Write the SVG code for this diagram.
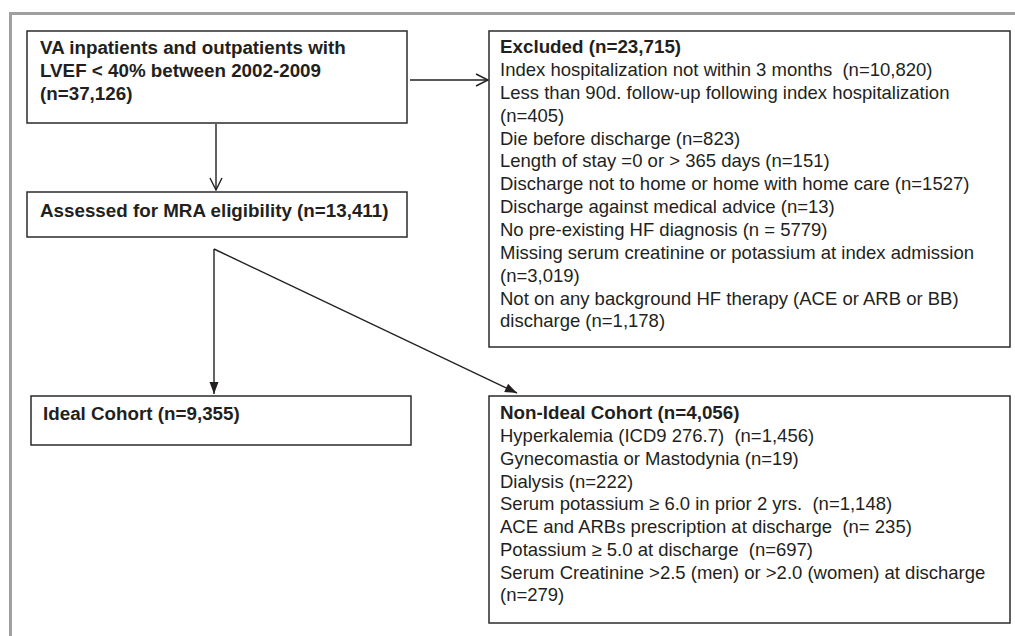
<svg xmlns="http://www.w3.org/2000/svg" width="1015" height="636" viewBox="0 0 1015 636">
<defs>
<style>
.box{fill:#fff;stroke:#2b2b2b;stroke-width:1.5}
.frame{fill:none;stroke:#a0a0a3;stroke-width:3}
.conn{fill:none;stroke:#231f20;stroke-width:1.4}
.b{font-family:"Liberation Sans",Arial,sans-serif;font-weight:bold;font-size:18.8px;fill:#231f20;white-space:pre}
.r{font-family:"Liberation Sans",Arial,sans-serif;font-size:18.5px;fill:#231f20;white-space:pre}
</style>
<marker id="open" markerWidth="16" markerHeight="16" refX="13" refY="8" orient="auto" markerUnits="userSpaceOnUse">
<path d="M1,2 L13,8 L1,14" fill="none" stroke="#231f20" stroke-width="1.4"/>
</marker>
<marker id="fill" markerWidth="16" markerHeight="16" refX="13" refY="8" orient="auto" markerUnits="userSpaceOnUse">
<path d="M1,3.5 L13,8 L1,12.5 Z" fill="#231f20"/>
</marker>
</defs>
<rect width="1015" height="636" fill="#fff"/>
<path class="frame" d="M10.5,636 V13.5 H1015"/>
<g id="connectors">
<line class="conn" x1="216" y1="124" x2="216" y2="190" marker-end="url(#open)"/>
<line class="conn" x1="410" y1="80" x2="488" y2="80" marker-end="url(#open)"/>
<line class="conn" x1="214" y1="249" x2="214" y2="394" marker-end="url(#fill)"/>
<line class="conn" x1="214" y1="249" x2="517" y2="393" marker-end="url(#fill)"/>
</g>
<g id="node-start">
<rect class="box" x="27" y="31" width="380" height="92"/>
<text class="b" x="40" y="54">VA inpatients and outpatients with</text>
<text class="b" x="40" y="77">LVEF &lt; 40% between 2002-2009</text>
<text class="b" x="40" y="100">(n=37,126)</text>
</g>
<g id="node-assessed">
<rect class="box" x="27" y="192" width="380" height="45"/>
<text class="b" x="40" y="217">Assessed for MRA eligibility (n=13,411)</text>
</g>
<g id="node-excluded">
<rect class="box" x="489" y="31" width="521" height="316"/>
<text class="b" x="500" y="53">Excluded (n=23,715)</text>
<text class="r" x="500" y="76" xml:space="preserve">Index hospitalization not within 3 months  (n=10,820)</text>
<text class="r" x="500" y="99">Less than 90d. follow-up following index hospitalization</text>
<text class="r" x="500" y="122">(n=405)</text>
<text class="r" x="500" y="145">Die before discharge (n=823)</text>
<text class="r" x="500" y="167">Length of stay =0 or &gt; 365 days (n=151)</text>
<text class="r" x="500" y="190">Discharge not to home or home with home care (n=1527)</text>
<text class="r" x="500" y="213">Discharge against medical advice (n=13)</text>
<text class="r" x="500" y="236">No pre-existing HF diagnosis (n = 5779)</text>
<text class="r" x="500" y="259">Missing serum creatinine or potassium at index admission</text>
<text class="r" x="500" y="282">(n=3,019)</text>
<text class="r" x="500" y="305">Not on any background HF therapy (ACE or ARB or BB)</text>
<text class="r" x="500" y="327">discharge (n=1,178)</text>
</g>
<g id="node-ideal">
<rect class="box" x="31" y="396" width="380" height="49"/>
<text class="b" x="43" y="420">Ideal Cohort (n=9,355)</text>
</g>
<g id="node-nonideal">
<rect class="box" x="489" y="396" width="521" height="227"/>
<text class="b" x="500" y="419">Non-Ideal Cohort (n=4,056)</text>
<text class="r" x="500" y="442" xml:space="preserve">Hyperkalemia (ICD9 276.7)  (n=1,456)</text>
<text class="r" x="500" y="465">Gynecomastia or Mastodynia (n=19)</text>
<text class="r" x="500" y="488">Dialysis (n=222)</text>
<text class="r" x="500" y="510" xml:space="preserve">Serum potassium ≥ 6.0 in prior 2 yrs.  (n=1,148)</text>
<text class="r" x="500" y="533" xml:space="preserve">ACE and ARBs prescription at discharge  (n= 235)</text>
<text class="r" x="500" y="556" xml:space="preserve">Potassium ≥ 5.0 at discharge  (n=697)</text>
<text class="r" x="500" y="579">Serum Creatinine &gt;2.5 (men) or &gt;2.0 (women) at discharge</text>
<text class="r" x="500" y="601">(n=279)</text>
</g>
</svg>
